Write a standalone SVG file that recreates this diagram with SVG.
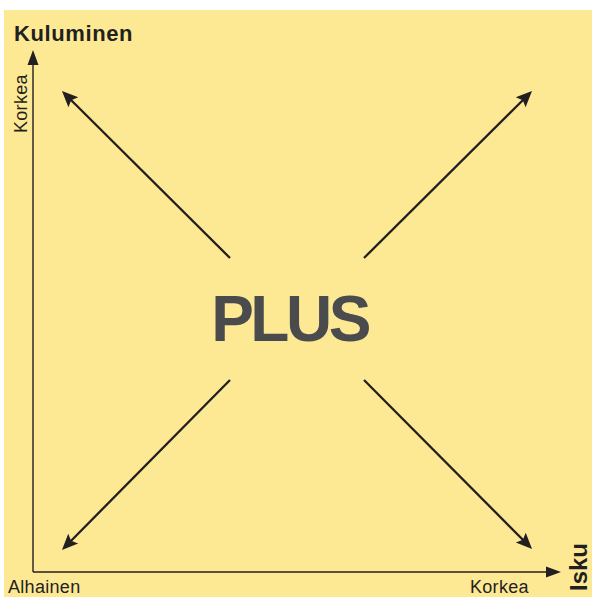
<svg xmlns="http://www.w3.org/2000/svg" width="592" height="597" viewBox="0 0 592 597">
<style>
.lbl{font-family:"Liberation Sans",Arial,sans-serif;fill:#231f20}
.b{font-weight:bold}
.diag{stroke:#231f20;stroke-width:2.3;fill:none}
.axis{stroke:#231f20;stroke-width:1.4;fill:none}
</style>
<defs>
<marker id="ah" markerUnits="userSpaceOnUse" viewBox="-5 -8 18 16" markerWidth="18" markerHeight="16" refX="0" refY="0" orient="auto">
<path d="M12,0 L-4,-7 L-1,0 L-4,7 z" fill="#231f20"/>
</marker>
<marker id="aa" markerUnits="userSpaceOnUse" viewBox="-4 -7 17 14" markerWidth="17" markerHeight="14" refX="0" refY="0" orient="auto">
<path d="M12,0 L-3,-5.5 L-3,5.5 z" fill="#231f20"/>
</marker>
</defs>
<rect x="4" y="10" width="588" height="587" fill="#fde994"/>
<g id="connectors">
<line class="axis" x1="33" y1="572" x2="33" y2="62" marker-end="url(#aa)"/>
<line class="axis" x1="33" y1="572" x2="549" y2="572" marker-end="url(#aa)"/>
<line class="diag" x1="230" y1="258" x2="70.5" y2="99.5" marker-end="url(#ah)"/>
<line class="diag" x1="364" y1="258" x2="523.5" y2="99.5" marker-end="url(#ah)"/>
<line class="diag" x1="230" y1="380" x2="70.4" y2="541.5" marker-end="url(#ah)"/>
<line class="diag" x1="364" y1="380" x2="523.6" y2="540.5" marker-end="url(#ah)"/>
</g>
<g id="center">
<text x="289.5" y="341" text-anchor="middle" font-family="Liberation Sans,Arial,sans-serif" font-weight="bold" font-size="64" fill="#4a4b4d" letter-spacing="-3.5">PLUS</text>
</g>
<g id="labels">
<text class="lbl b" x="14" y="41" font-size="22" letter-spacing="0.6">Kuluminen</text>
<text class="lbl" transform="translate(27,133) rotate(-90)" font-size="18" letter-spacing="0.3">Korkea</text>
<text class="lbl" x="8" y="593" font-size="18" letter-spacing="0.3">Alhainen</text>
<text class="lbl" x="470" y="593" font-size="18" letter-spacing="0.3">Korkea</text>
<text class="lbl b" transform="translate(587,591) rotate(-90)" font-size="24">Isku</text>
</g>
</svg>
